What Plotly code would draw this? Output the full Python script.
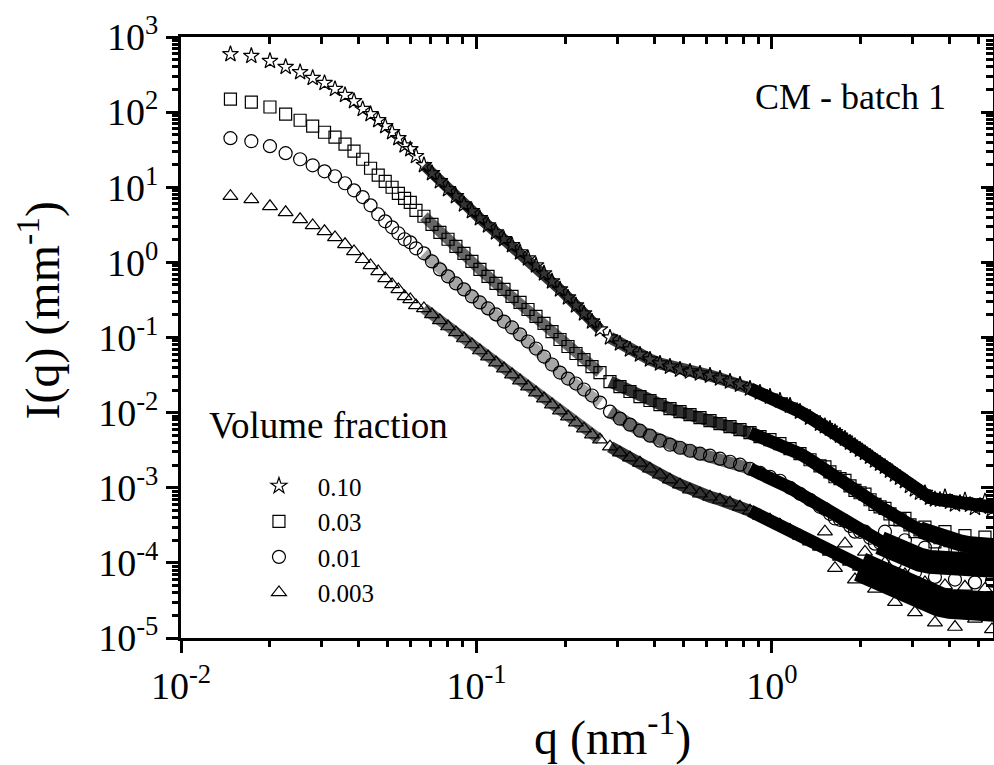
import plotly.graph_objects as go

# ---- data (q in nm^-1, I in mm^-1) ----
# low-q set
q_low = [0.0147, 0.0173, 0.0200, 0.0226, 0.0253, 0.0279, 0.0306, 0.0332, 0.0359, 0.0385,
         0.0412, 0.0438, 0.0465, 0.0491, 0.0518, 0.0544, 0.0571, 0.0597, 0.0624,
         0.0664, 0.0707, 0.0752, 0.0801, 0.0852, 0.0907, 0.0965, 0.1027, 0.1094, 0.1164,
         0.1239, 0.1319, 0.1404, 0.1494, 0.1590, 0.1692, 0.1801, 0.1917, 0.2040, 0.2171,
         0.2311, 0.2460, 0.2618]
# high-q set
q_high = [0.2830, 0.3059, 0.3307, 0.3575, 0.3865, 0.4178, 0.4517, 0.4883, 0.5279, 0.5707,
          0.6169, 0.6669, 0.7210, 0.7794, 0.8425, 0.9107, 0.9845, 1.064, 1.151, 1.244,
          1.345, 1.454, 1.571, 1.699, 1.837, 1.986, 2.147, 2.321, 2.508, 2.712,
          2.931, 3.169, 3.426, 3.703, 4.004, 4.328, 4.679, 5.058, 5.467, 5.75]
# scattered points in the noisy high-q tail
q_tail = [1.511, 1.634, 1.766, 1.909, 2.064, 2.232, 2.412, 2.608, 2.818, 3.047,
          3.294, 3.561, 3.850, 4.162, 4.499, 4.864, 5.258, 5.553]

I_010_low = [590, 560, 480, 400, 340, 285, 244, 203, 169, 140, 110, 94, 78, 65, 54, 45, 36, 32, 26,
             19.7, 15.4, 12.0, 9.4, 7.6, 5.9, 4.8, 3.86, 3.11, 2.51, 2.03, 1.69, 1.36, 1.13,
             0.91, 0.713, 0.558, 0.437, 0.341, 0.267, 0.209, 0.163, 0.128]
I_010_high = [0.100, 0.0832, 0.0692, 0.0593, 0.0509, 0.0450, 0.0410, 0.0374, 0.0352, 0.0331,
              0.0311, 0.0284, 0.0259, 0.0236, 0.0209, 0.0185, 0.0163, 0.0145, 0.0124, 0.0103,
              0.00858, 0.00714, 0.00612, 0.00494, 0.00398, 0.00321, 0.00259, 0.00209, 0.00169, 0.00136,
              0.00106, 0.000858, 0.000736, 0.000692, 0.000650, 0.000631, 0.000593, 0.000575, 0.000558, 0.000558]
I_010_tail = [0.0066, 0.0055, 0.0045, 0.0036, 0.0029, 0.0023, 0.0019, 0.0015, 0.00122, 0.00095,
              0.00085, 0.00070, 0.00075, 0.00060, 0.00068, 0.00054, 0.00066, 0.00052]

I_003_low = [149, 136, 117, 94, 78, 65, 54, 46.4, 37.4, 30.2, 23.6, 17.9, 14.5, 12.0, 10.0, 8.3, 7.1, 6.3, 4.93,
             4.11, 3.21, 2.51, 2.03, 1.63, 1.32, 1.03, 0.807, 0.651, 0.525, 0.437, 0.352, 0.293, 0.236,
             0.191, 0.154, 0.120, 0.094, 0.0759, 0.0612, 0.0509, 0.0410, 0.0341]
I_003_high = [0.0259, 0.0222, 0.0191, 0.0163, 0.0145, 0.0128, 0.0113, 0.0103, 0.0094, 0.00858,
              0.00782, 0.00714, 0.00651, 0.00593, 0.00541, 0.00479, 0.00437, 0.00386, 0.00331, 0.00284,
              0.00236, 0.00196, 0.00163, 0.00132, 0.00106, 0.000858, 0.000692, 0.000558, 0.000450, 0.000374,
              0.000321, 0.000275, 0.000244, 0.000216, 0.000197, 0.000185, 0.000174, 0.000169, 0.000163, 0.000163]
I_003_tail = [0.0019, 0.0014, 0.00125, 0.00092, 0.00082, 0.0006, 0.00053, 0.00038, 0.00039, 0.00026,
              0.00030, 0.00019, 0.00026, 0.00015, 0.00023, 0.00013, 0.00022, 0.00012]

I_001_low = [45.0, 41.0, 35.2, 28.4, 23.6, 19.6, 16.3, 14.0, 11.3, 9.1, 7.4, 5.75, 4.37, 3.52, 2.93, 2.44, 2.03, 1.85, 1.54,
             1.32, 1.03, 0.807, 0.651, 0.525, 0.437, 0.352, 0.293, 0.244, 0.203, 0.163, 0.136, 0.110, 0.0885,
             0.0714, 0.0558, 0.0437, 0.0341, 0.0284, 0.0244, 0.0203, 0.0169, 0.0136]
I_001_high = [0.0103, 0.00832, 0.00692, 0.00575, 0.00494, 0.00423, 0.00374, 0.00341, 0.00311, 0.00284,
              0.00267, 0.00244, 0.00222, 0.00203, 0.00179, 0.00158, 0.00140, 0.00124, 0.00100, 0.000832,
              0.000692, 0.000558, 0.000450, 0.000374, 0.000311, 0.000259, 0.000216, 0.000185, 0.000158, 0.000136,
              0.000120, 0.000110, 0.000103, 0.000100, 0.0000970, 0.0000940, 0.0000940, 0.0000912, 0.0000912, 0.0000912]
I_001_tail = [0.00052, 0.00039, 0.00036, 0.00026, 0.00026, 0.00018, 0.00026, 0.00010, 0.00020, 0.000075,
              0.00016, 0.000065, 0.00015, 0.000060, 0.00014, 0.000055, 0.00013, 0.000058]

I_0003_low = [7.6, 6.9, 5.58, 4.64, 3.74, 3.11, 2.59, 2.15, 1.74, 1.40, 1.10, 0.912, 0.759, 0.612, 0.509, 0.437, 0.352, 0.321, 0.267,
              0.244, 0.203, 0.169, 0.140, 0.117, 0.0970, 0.0807, 0.0671, 0.0558, 0.0464, 0.0386, 0.0321, 0.0267, 0.0222,
              0.0185, 0.0154, 0.0128, 0.0106, 0.00885, 0.00736, 0.00612, 0.00509, 0.00437]
I_0003_high = [0.00352, 0.00293, 0.00251, 0.00215, 0.00179, 0.00149, 0.00128, 0.00110, 0.000940, 0.000832,
               0.000759, 0.000692, 0.000631, 0.000558, 0.000494, 0.000423, 0.000374, 0.000321, 0.000275, 0.000229,
               0.000191, 0.000163, 0.000140, 0.000120, 0.000103, 0.0000885, 0.0000759, 0.0000650, 0.0000558, 0.0000464,
               0.0000398, 0.0000352, 0.0000321, 0.0000302, 0.0000284, 0.0000275, 0.0000267, 0.0000259, 0.0000259, 0.0000259]
I_0003_tail = [0.00026, 0.000085, 0.00018, 0.000060, 0.00014, 0.000045, 0.00010, 0.000030, 0.000070, 0.000022,
               0.000055, 0.000016, 0.000050, 0.000014, 0.000048, 0.000018, 0.000045, 0.000013]

series_names = ["0.10", "0.03", "0.01", "0.003"]
series_low = [I_010_low, I_003_low, I_001_low, I_0003_low]
series_high = [I_010_high, I_003_high, I_001_high, I_0003_high]
series_tail = [I_010_tail, I_003_tail, I_001_tail, I_0003_tail]
symbols = ["star-open", "square-open", "circle-open", "triangle-up-open"]
sizes = [12, 12, 13, 13]

# styling of the dense (overlapping-marker) regions
mid_band_colors = ["rgba(0,0,0,0.8)", "rgba(0,0,0,0.6)", "rgba(0,0,0,0.35)", "rgba(0,0,0,0.6)"]
hatch_band_colors = ["rgba(0,0,0,0.75)", "rgba(0,0,0,0.8)", "rgba(0,0,0,0.6)", "rgba(0,0,0,0.8)"]
spread_start = [40, 31, 27, 25]      # index in q_high where the scatter band widens
spread_width = [0, 17, 24, 30]

x_major = [0.01, 0.1, 1]
x_major_text = ["10<sup>-2</sup>", "10<sup>-1</sup>", "10<sup>0</sup>"]
x_minor = [0.02, 0.03, 0.04, 0.05, 0.06, 0.07, 0.08, 0.09,
           0.2, 0.3, 0.4, 0.5, 0.6, 0.7, 0.8, 0.9, 2, 3, 4, 5]
y_major = [1e-5, 1e-4, 1e-3, 1e-2, 1e-1, 1, 10, 100, 1000]
y_major_text = ["10<sup>-5</sup>", "10<sup>-4</sup>", "10<sup>-3</sup>", "10<sup>-2</sup>",
                "10<sup>-1</sup>", "10<sup>0</sup>", "10<sup>1</sup>", "10<sup>2</sup>", "10<sup>3</sup>"]
y_minor = [m * d for d in [1e-5, 1e-4, 1e-3, 1e-2, 1e-1, 1, 10, 100] for m in range(2, 10)]

FONT = "Liberation Serif, Times New Roman, serif"

fig = go.Figure()

# overlapping markers in the dense regions look like bands
for yl, col in zip(series_low, mid_band_colors):
    fig.add_trace(go.Scatter(x=q_low[19:], y=yl[19:], mode="lines",
                             line=dict(color=col, width=11), showlegend=False,
                             hoverinfo="skip"))
for yh, col, s0, sw in zip(series_high, hatch_band_colors, spread_start, spread_width):
    fig.add_trace(go.Scatter(x=q_high[:15], y=yh[:15], mode="lines",
                             line=dict(color=col, width=12), showlegend=False,
                             hoverinfo="skip"))
    fig.add_trace(go.Scatter(x=q_high[14:], y=yh[14:], mode="lines",
                             line=dict(color="black", width=13), showlegend=False,
                             hoverinfo="skip"))
    if sw:
        fig.add_trace(go.Scatter(x=q_high[s0:], y=yh[s0:], mode="lines",
                                 line=dict(color="black", width=sw),
                                 showlegend=False, hoverinfo="skip"))

for name, yl, yh, yt, sym, sz in zip(series_names, series_low, series_high, series_tail, symbols, sizes):
    fig.add_trace(go.Scatter(x=q_low + q_high, y=yl + yh, mode="markers", name="   " + name,
                             legendgroup=name,
                             marker=dict(symbol=sym, size=sz, color="black",
                                         line=dict(color="black", width=1.2))))
    fig.add_trace(go.Scatter(x=q_tail, y=yt, mode="markers", showlegend=False,
                             legendgroup=name,
                             marker=dict(symbol=sym, size=sz, color="black",
                                         line=dict(color="black", width=1.2))))

# helper trace so the mirrored top/right axes are drawn
fig.add_trace(go.Scatter(x=[], y=[], xaxis="x2", yaxis="y2", showlegend=False))

xr = [-2, 0.748]
yr = [-5, 3]
common = dict(type="log", showgrid=False, zeroline=False, showline=True,
              linecolor="black", linewidth=3, tickcolor="black", tickwidth=2.5)

fig.update_layout(
    width=994, height=765,
    margin=dict(l=181, r=1, t=37, b=127),
    paper_bgcolor="white", plot_bgcolor="white",
    font=dict(family=FONT, color="black"),
    xaxis=dict(**common, range=xr, ticks="outside", ticklen=12,
               tickvals=x_major, ticktext=x_major_text,
               tickfont=dict(family=FONT, size=38, color="black"),
               minor=dict(tickvals=x_minor, ticks="outside", ticklen=6,
                          tickwidth=2.5, tickcolor="black"),
               anchor="y"),
    yaxis=dict(**common, range=yr, ticks="outside", ticklen=12,
               tickvals=y_major, ticktext=y_major_text,
               tickfont=dict(family=FONT, size=38, color="black"),
               minor=dict(tickvals=y_minor, ticks="outside", ticklen=6,
                          tickwidth=2.5, tickcolor="black"),
               anchor="x"),
    xaxis2=dict(**common, range=xr, overlaying="x", side="top", anchor="y2",
                ticks="inside", ticklen=12, tickvals=x_major, showticklabels=False,
                minor=dict(tickvals=x_minor, ticks="inside", ticklen=7,
                           tickwidth=2.5, tickcolor="black")),
    yaxis2=dict(**common, range=yr, overlaying="y", side="right", anchor="x2",
                ticks="inside", ticklen=12, tickvals=y_major, showticklabels=False,
                minor=dict(tickvals=y_minor, ticks="inside", ticklen=7,
                           tickwidth=2.5, tickcolor="black")),
    showlegend=True,
    legend=dict(x=0.096, y=0.291, xanchor="left", yanchor="top",
                bgcolor="rgba(0,0,0,0)", borderwidth=0, tracegroupgap=0,
                font=dict(family=FONT, size=25, color="black")),
    annotations=[
        dict(text="q (nm<sup>-1</sup>)", xref="paper", yref="paper", x=0.531, y=-0.160,
             xanchor="center", yanchor="middle", showarrow=False,
             font=dict(family=FONT, size=48, color="black")),
        dict(text="I(q) (mm<sup>-1</sup>)", xref="paper", yref="paper", x=-0.174, y=0.546,
             xanchor="center", yanchor="middle", textangle=-90, showarrow=False,
             font=dict(family=FONT, size=48, color="black")),
        dict(text="Volume fraction", xref="paper", yref="paper", x=0.032, y=0.354,
             xanchor="left", yanchor="middle", showarrow=False,
             font=dict(family=FONT, size=37, color="black")),
        dict(text="CM - batch 1", xref="paper", yref="paper", x=0.824, y=0.900,
             xanchor="center", yanchor="middle", showarrow=False,
             font=dict(family=FONT, size=36, color="black")),
    ],
)

fig.write_html("out.html", config={"displayModeBar": False},
               post_script="document.body.style.margin='0px';")
